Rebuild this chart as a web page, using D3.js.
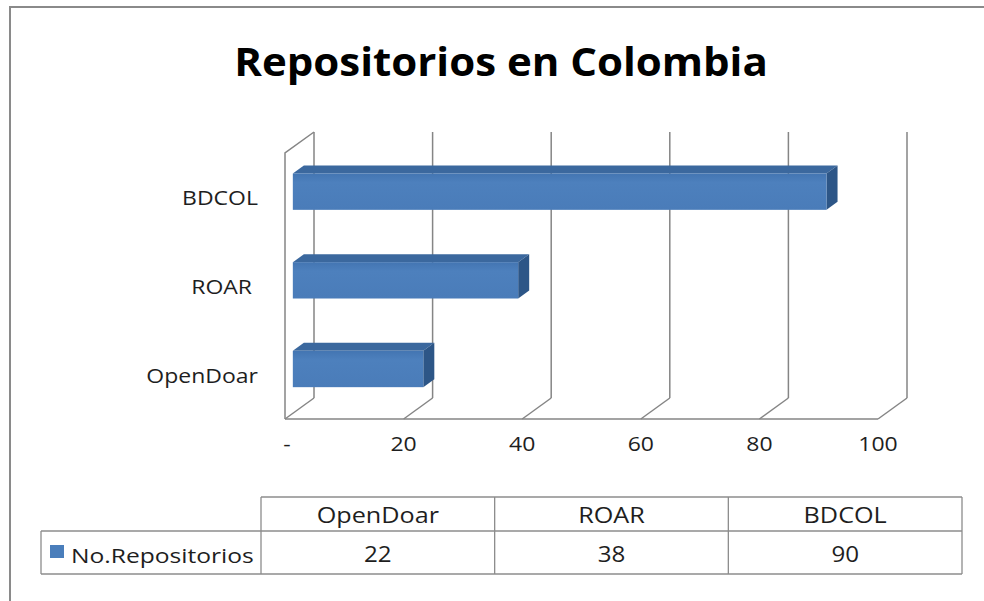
<!DOCTYPE html>
<html>
<head>
<meta charset="utf-8">
<script src="https://cdn.jsdelivr.net/npm/d3@7"></script>
<style>
  body{margin:0;background:#fff}
  text{font-family:"Open Sans","Noto Sans",sans-serif;fill:#1e1e1e}
</style>
</head>
<body>
<script>
// data
var title = "Repositorios en Colombia"
var seriesName = "No.Repositorios"
var categories = ["OpenDoar","ROAR","BDCOL"]
var values = [22,38,90]
var ticks = [0,20,40,60,80,100]
var tickLabels = ["-","20","40","60","80","100"]

var W=984,H=601
var svg=d3.select("body").append("svg").attr("width",W).attr("height",H)

// front plane of the 3d box, back plane is shifted by (dx,dy)
var dx=29,dy=-21
var x=d3.scaleLinear().domain([0,100]).range([285,878])
var y=d3.scaleBand().domain(categories.slice().reverse()).range([153,419]).paddingInner(0.59).paddingOuter(0.295)
var t0=0.27,t1=0.65   // bar depth inside the box
var grid="#858585"

// stretched text helper (picture text is wide)
function label(g,str,px,py,size,anchor,k,weight){
    var t=g.append("text").attr("transform","translate("+px+","+py+") scale("+k+",1)")
        .attr("text-anchor",anchor).style("font-size",size+"px").text(str)
    if(weight)t.style("font-weight",weight)
    return t
}

// outer frame
svg.append("path").attr("d","M10,601V7H984").attr("fill","none").attr("stroke","#8a8a8a").attr("stroke-width",2)

label(svg,title,501,76,40,"middle",1.05,"bold").style("fill","#000")

var walls=svg.append("g").attr("fill","none").attr("stroke",grid).attr("stroke-width",1.5)
// back gridlines
walls.selectAll(".gl").data(ticks).enter().append("line")
    .attr("x1",function(d){return x(d)+dx}).attr("x2",function(d){return x(d)+dx})
    .attr("y1",y.range()[0]+dy).attr("y2",y.range()[1]+dy)
// floor diagonals
walls.selectAll(".fd").data(ticks).enter().append("line")
    .attr("x1",function(d){return x(d)+dx}).attr("y1",y.range()[1]+dy)
    .attr("x2",function(d){return x(d)}).attr("y2",y.range()[1])
// floor front edge
walls.append("line").attr("x1",x(0)).attr("x2",x(100)).attr("y1",y.range()[1]).attr("y2",y.range()[1])
// left wall front edge + top
walls.append("path").attr("d","M"+x(0)+","+y.range()[1]+"V"+y.range()[0]+"L"+(x(0)+dx)+","+(y.range()[0]+dy))

var defs=svg.append("defs")
var gr=defs.append("linearGradient").attr("id","bf").attr("x1",0).attr("x2",0).attr("y1",0).attr("y2",1)
gr.append("stop").attr("offset","0").attr("stop-color","#4375b2")
gr.append("stop").attr("offset","0.25").attr("stop-color","#4d80bd")
gr.append("stop").attr("offset","1").attr("stop-color","#4a7cb9")

var bars=svg.append("g").selectAll("g").data(categories).enter().append("g")
bars.each(function(c,i){
    var g=d3.select(this)
    var v=values[i]
    var fx=x(0)+dx*t0, fy=y(c)+dy*t0
    var w=x(v)-x(0), h=y.bandwidth()
    var ox=dx*(t1-t0), oy=dy*(t1-t0)
    // top face
    g.append("path").attr("fill","#3b689e")
        .attr("d","M"+fx+","+fy+"l"+ox+","+oy+"h"+w+"l"+(-ox)+","+(-oy)+"Z")
    // side face
    g.append("path").attr("fill","#2d5687")
        .attr("d","M"+(fx+w)+","+fy+"l"+ox+","+oy+"v"+h+"l"+(-ox)+","+(-oy)+"Z")
    // front face
    g.append("rect").attr("x",fx).attr("y",fy).attr("width",w).attr("height",h).attr("fill","url(#bf)")
})

// category labels
categories.forEach(function(c){
    label(svg,c=="ROAR"?"ROAR\u00a0":c,258,y(c)+y.bandwidth()/2+8,20,"end",1.15)
})
// tick labels
ticks.forEach(function(d,i){
    label(svg,tickLabels[i],x(d)+(i==0?2:0),451,20,"middle",1.15)
})

// data table
var tx=d3.scaleBand().domain(categories).range([261,962])
var tbl=svg.append("g").attr("fill","none").attr("stroke","#8c8c8c").attr("stroke-width",1.3)
tbl.append("line").attr("x1",261).attr("x2",962).attr("y1",497).attr("y2",497)
tbl.append("line").attr("x1",41).attr("x2",962).attr("y1",531).attr("y2",531)
tbl.append("line").attr("x1",41).attr("x2",962).attr("y1",574).attr("y2",574)
tbl.append("line").attr("x1",41).attr("x2",41).attr("y1",531).attr("y2",574)
tbl.selectAll(".v").data(categories.concat([null])).enter().append("line")
    .attr("x1",function(d){return d?tx(d):962}).attr("x2",function(d){return d?tx(d):962})
    .attr("y1",497).attr("y2",574)
categories.forEach(function(c,i){
    label(svg,c,tx(c)+tx.bandwidth()/2,523,21,"middle",1.2)
    label(svg,String(values[i]),tx(c)+tx.bandwidth()/2,562,21,"middle",1.15)
})
svg.append("rect").attr("x",50).attr("y",545).attr("width",14).attr("height",13).attr("fill","#4a7ebb")
label(svg,seriesName,71,563,20,"start",1.23)
</script>
</body>
</html>
